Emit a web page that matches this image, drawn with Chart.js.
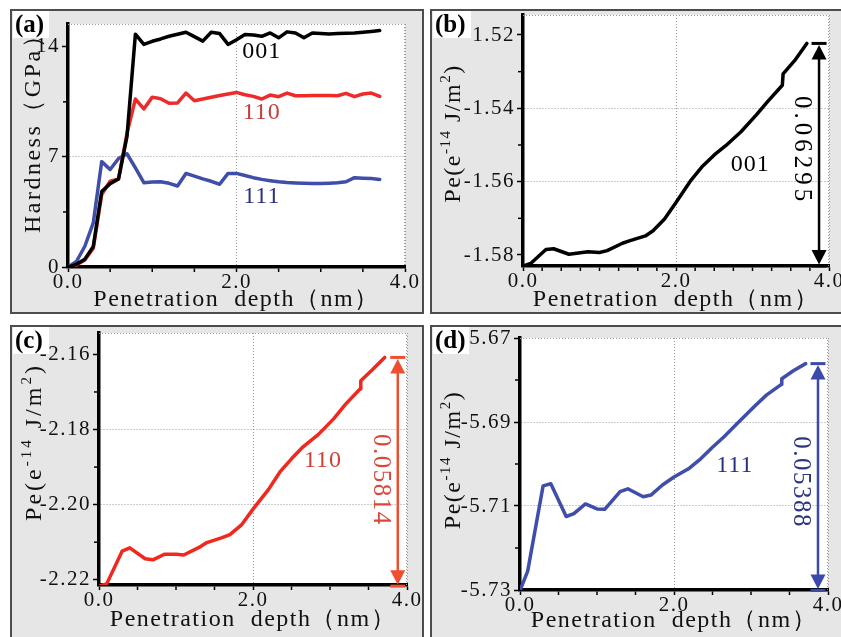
<!DOCTYPE html>
<html>
<head>
<meta charset="utf-8">
<script src="https://cdn.jsdelivr.net/npm/chart.js@4.4.0/dist/chart.umd.min.js"></script>
<style>
html, body { margin: 0; padding: 0; background: #fff; overflow: hidden; width: 841px; height: 637px; }
.panel { position: absolute; box-sizing: border-box; border: 2px solid #4d4d4d; background: #e6e6e6; }
.panel canvas { position: absolute; left: 0; top: 0; }
#pa { left: 10px; top: 9px; width: 414px; height: 305px; }
#pb { left: 430px; top: 9px; width: 430px; height: 305px; }
#pc { left: 10px; top: 325px; width: 414px; height: 330px; }
#pd { left: 430px; top: 325px; width: 430px; height: 330px; }
</style>
</head>
<body>
<div class="panel" id="pa"><canvas id="ca" width="410" height="301"></canvas></div>
<div class="panel" id="pb"><canvas id="cb" width="426" height="301"></canvas></div>
<div class="panel" id="pc"><canvas id="cc" width="410" height="326"></canvas></div>
<div class="panel" id="pd"><canvas id="cd" width="426" height="326"></canvas></div>
<script>
// hardness vs penetration depth (panel a)
var hardDepth = [0, 0.1, 0.2, 0.3, 0.4, 0.5, 0.6, 0.7, 0.8, 0.9, 1.0, 1.1, 1.2, 1.3, 1.4, 1.5, 1.6, 1.7, 1.8, 1.9,
                 2.0, 2.1, 2.2, 2.3, 2.4, 2.5, 2.6, 2.7, 2.8, 2.9, 3.0, 3.1, 3.2, 3.3, 3.4, 3.5, 3.6, 3.7];
var hard001 = [0, 0.17, 0.5, 1.3, 4.8, 5.3, 5.6, 8.3, 14.8, 14.15, 14.35, 14.5, 14.67, 14.8, 14.93, 14.65, 14.36, 14.93, 14.84, 14.15,
               14.45, 14.78, 14.75, 14.67, 14.88, 14.57, 14.95, 14.88, 14.57, 14.88, 14.85, 14.82, 14.84, 14.86, 14.88, 14.92, 14.97, 15.03];
var hard110 = [0, 0.12, 0.45, 1.2, 4.6, 5.45, 5.6, 8.5, 10.68, 10.05, 10.8, 10.7, 10.41, 10.43, 11.06, 10.57, 10.68, 10.79, 10.9, 11.0,
               11.1, 10.95, 10.85, 10.68, 10.93, 10.83, 11.06, 10.89, 10.89, 10.9, 10.9, 10.9, 10.89, 11.04, 10.83, 11.0, 11.06, 10.85];
var hard111 = [0, 0.35, 1.32, 2.8, 6.7, 6.2, 6.9, 7.2, 6.3, 5.36, 5.4, 5.42, 5.32, 5.15, 5.95, 5.78, 5.6, 5.45, 5.26, 5.95,
               5.95, 5.82, 5.68, 5.57, 5.49, 5.42, 5.37, 5.34, 5.32, 5.31, 5.31, 5.33, 5.36, 5.42, 5.68, 5.65, 5.62, 5.57];

// potential energy vs penetration depth (panels b, c, d)
var peDepth = [0, 0.1, 0.3, 0.4, 0.6, 0.7, 0.85, 1.0, 1.1, 1.3, 1.4, 1.6, 1.7, 1.85, 2.0, 2.2, 2.35, 2.5, 2.65, 2.85, 3.05, 3.2, 3.39, 3.40, 3.55, 3.71];
var pe001 = [-1.5830, -1.5823, -1.5785, -1.5783, -1.5798, -1.5795, -1.5791, -1.5793, -1.5788, -1.5768, -1.5761, -1.5748, -1.5734,
             -1.5702, -1.5657, -1.5595, -1.5557, -1.5527, -1.5502, -1.5464, -1.5418, -1.5381, -1.5337, -1.5306, -1.5270, -1.5223];
var pe110 = [-2.2217, -2.2211, -2.2124, -2.2115, -2.2144, -2.2147, -2.2132, -2.2132, -2.2134, -2.2114, -2.2101, -2.2088, -2.2080,
             -2.2054, -2.2012, -2.1960, -2.1913, -2.1878, -2.1846, -2.1813, -2.1771, -2.1733, -2.1692, -2.1670, -2.1641, -2.1608];
var pe111 = [-5.7301, -5.7255, -5.7052, -5.7047, -5.7125, -5.7118, -5.7095, -5.7107, -5.7108, -5.7066, -5.7059, -5.7078, -5.7074,
             -5.7050, -5.7031, -5.7010, -5.6987, -5.6960, -5.6935, -5.6898, -5.6862, -5.6836, -5.6811, -5.6797, -5.6778, -5.6761];

// ticks
var depthTicks = [0, 2, 4];
var hardTicks = [0, 7, 14];
var pe001Ticks = [-1.58, -1.56, -1.54, -1.52];
var pe110Ticks = [-2.22, -2.20, -2.18, -2.16];
var pe111Ticks = [-5.73, -5.71, -5.69, -5.67];
var deltaLabels = ['0.06295', '0.05814', '0.05388'];

var FONT = "'Liberation Serif', 'Times New Roman', serif";
var GRID = '#9a9a9a';

function steps(from, to, step, skip) {
    var out = [];
    for (var v = from; v < to - 1e-9; v += step) {
        var r = Math.round(v * 1000) / 1000;
        if (skip.indexOf(r) < 0) out.push(r);
    }
    return out;
}

function seg(ctx, x1, y1, x2, y2) {
    ctx.beginPath(); ctx.moveTo(x1, y1); ctx.lineTo(x2, y2); ctx.stroke();
}

function drawRuns(ctx, runs, cx, cy, size, spacing) {
    ctx.save();
    ctx.translate(cx, cy);
    ctx.rotate(-Math.PI / 2);
    ctx.letterSpacing = spacing + 'px';
    ctx.textAlign = 'left';
    ctx.textBaseline = 'alphabetic';
    function fontOf(r) { return (r.sup ? Math.round(size * 0.62) : size) + 'px ' + FONT; }
    var w = 0;
    runs.forEach(function(r) { ctx.font = fontOf(r); w += ctx.measureText(r.t).width; });
    var xx = -w / 2;
    runs.forEach(function(r) {
        ctx.font = fontOf(r);
        ctx.fillText(r.t, xx, r.sup ? size * 0.35 - size * 0.42 : size * 0.35);
        xx += ctx.measureText(r.t).width;
    });
    ctx.restore();
}

var decor = {
    id: 'decor',
    beforeDraw: function(chart) {
        var ctx = chart.ctx, a = chart.chartArea;
        ctx.save();
        ctx.fillStyle = '#fff';
        ctx.fillRect(a.left, a.top, a.right - a.left, a.bottom - a.top);
        ctx.restore();
        ctx.letterSpacing = '1.5px';
    },
    beforeDatasetsDraw: function(chart) {
        // dotted top and right frame of the plot area
        var ctx = chart.ctx, a = chart.chartArea;
        ctx.save();
        ctx.strokeStyle = GRID; ctx.lineWidth = 1; ctx.setLineDash([1, 2]);
        ctx.beginPath();
        ctx.moveTo(a.left, a.top + 0.5); ctx.lineTo(a.right - 0.5, a.top + 0.5); ctx.lineTo(a.right - 0.5, a.bottom);
        ctx.stroke();
        ctx.restore();
    },
    afterDraw: function(chart, args, o) {
        var ctx = chart.ctx, a = chart.chartArea, x = chart.scales.x, y = chart.scales.y;
        ctx.save();
        ctx.setLineDash([]);

        // minor ticks
        ctx.strokeStyle = '#000'; ctx.lineWidth = 1.5;
        o.minorX.forEach(function(v) { var px = x.getPixelForValue(v); seg(ctx, px, a.bottom + 1.5, px, a.bottom + 5); });
        o.minorY.forEach(function(v) { var py = y.getPixelForValue(v); seg(ctx, a.left - 5, py, a.left - 1.5, py); });

        // curve names
        ctx.letterSpacing = '1px';
        ctx.textAlign = 'center'; ctx.textBaseline = 'middle';
        ctx.font = '24px ' + FONT;
        o.names.forEach(function(n) {
            ctx.fillStyle = n.color;
            ctx.fillText(n.text, x.getPixelForValue(n.x), y.getPixelForValue(n.y));
        });

        // range arrow
        if (o.arrow) {
            var ar = o.arrow;
            var ax = x.getPixelForValue(ar.x);
            var yT = y.getPixelForValue(Math.max.apply(null, ar.values));
            var yB = y.getPixelForValue(Math.min.apply(null, ar.values));
            ctx.strokeStyle = ar.color; ctx.fillStyle = ar.color;
            ctx.lineWidth = 3;
            seg(ctx, ax - 7.5, yT, ax + 7.5, yT);
            seg(ctx, ax - 7.5, yB, ax + 7.5, yB);
            ctx.lineWidth = 2.5;
            seg(ctx, ax, yT + 12, ax, yB - 12);
            ctx.beginPath(); ctx.moveTo(ax, yT + 1.5); ctx.lineTo(ax - 7.5, yT + 16); ctx.lineTo(ax + 7.5, yT + 16); ctx.closePath(); ctx.fill();
            ctx.beginPath(); ctx.moveTo(ax, yB - 1.5); ctx.lineTo(ax - 7.5, yB - 16); ctx.lineTo(ax + 7.5, yB - 16); ctx.closePath(); ctx.fill();
            ctx.save();
            ctx.translate(ax - 17, (yT + yB) / 2 + ar.dy);
            ctx.rotate(Math.PI / 2);
            ctx.letterSpacing = ar.spacing + 'px';
            ctx.fillStyle = ar.textColor;
            ctx.font = '25px ' + FONT;
            ctx.textAlign = 'center'; ctx.textBaseline = 'middle';
            ctx.fillText(ar.text, 0, 0);
            ctx.restore();
        }

        // y axis title
        ctx.fillStyle = '#111';
        drawRuns(ctx, o.yTitle, o.yTitleX, (a.top + a.bottom) / 2 + o.yTitleShift, 24, o.yTitleSpacing);

        // panel letter
        ctx.letterSpacing = '0px';
        ctx.fillStyle = '#fff';
        ctx.fillRect(1, 0, o.boxW, 27);
        ctx.fillStyle = '#000';
        ctx.font = 'bold 25px ' + FONT;
        ctx.textAlign = 'left'; ctx.textBaseline = 'alphabetic';
        ctx.fillText(o.label, 3, 21);
        ctx.restore();
    }
};

function makePanel(id, p) {
    var nY = p.yTicks.length;
    return new Chart(document.getElementById(id), {
        type: 'scatter',
        data: {
            datasets: p.series.map(function(s) {
                return {
                    data: p.depth.map(function(d, i) { return { x: d, y: s.values[i] }; }),
                    showLine: true,
                    borderColor: s.color,
                    borderWidth: 3.5,
                    pointRadius: 0,
                    tension: 0,
                    borderJoinStyle: 'round',
                    borderCapStyle: 'round'
                };
            })
        },
        options: {
            responsive: false,
            animation: false,
            devicePixelRatio: 1,
            events: [],
            layout: { padding: { left: 0, top: p.top, right: p.right, bottom: 0 } },
            plugins: { legend: { display: false }, tooltip: { enabled: false }, decor: p.decor },
            scales: {
                x: {
                    type: 'linear', min: 0, max: 4,
                    afterBuildTicks: function(s) { s.ticks = depthTicks.map(function(v) { return { value: v }; }); },
                    afterFit: function(s) { s.height = p.xh; s.paddingLeft = 0; s.paddingRight = 0; },
                    ticks: {
                        callback: function(v) { return Number(v).toFixed(1); },
                        font: { family: FONT, size: 21, lineHeight: 1 }, color: '#111',
                        padding: 0, maxRotation: 0, autoSkip: false
                    },
                    grid: {
                        color: function(c) { return c.index === 0 ? 'rgba(0,0,0,0)' : GRID; },
                        lineWidth: 1, tickLength: 5, tickColor: '#000', tickWidth: 1.5
                    },
                    border: { color: '#000', width: 3.5, dash: [1, 2] },
                    title: {
                        display: true, text: 'Penetration  depth（nm）', color: '#111',
                        font: { family: FONT, size: 24, lineHeight: 1 },
                        padding: { top: 0, bottom: p.titlePad }
                    }
                },
                y: {
                    type: 'linear', min: p.yMin, max: p.yMax,
                    afterBuildTicks: function(s) { s.ticks = p.yTicks.map(function(v) { return { value: v }; }); },
                    afterFit: function(s) { s.width = p.yw; s.paddingTop = 0; s.paddingBottom = 0; },
                    ticks: {
                        callback: p.fmt,
                        font: { family: FONT, size: 21, lineHeight: 1 }, color: '#111', padding: 2
                    },
                    grid: {
                        color: function(c) { return (c.index === 0 || c.index === nY - 1) ? 'rgba(0,0,0,0)' : GRID; },
                        lineWidth: 1, tickLength: 6, tickColor: '#000', tickWidth: 1.5
                    },
                    border: { color: '#000', width: 3.5, dash: [1, 2] }
                }
            }
        },
        plugins: [decor]
    });
}

var peTitle = [{ t: 'Pe(e' }, { t: '-14', sup: true }, { t: ' J/m' }, { t: '2', sup: true }, { t: ')' }];
var fmt2 = function(v) { return Number(v).toFixed(2); };
var minorHalf = steps(0, 4, 0.5, depthTicks);

makePanel('ca', {
    depth: hardDepth,
    series: [
        { values: hard001, color: '#000000' },
        { values: hard110, color: '#ee2b2b' },
        { values: hard111, color: '#3f4dab' }
    ],
    yMin: 0, yMax: 15.45, yTicks: hardTicks,
    fmt: function(v) { return String(v); },
    top: 13, right: 17, yw: 56, xh: 45, titlePad: 0,
    decor: {
        label: '(a)', boxW: 36,
        minorX: minorHalf, minorY: [3.5, 10.5],
        names: [
            { text: '001', x: 2.30, y: 13.7, color: '#000' },
            { text: '110', x: 2.30, y: 9.81, color: '#c83c3c' },
            { text: '111', x: 2.30, y: 4.46, color: '#2b327e' }
        ],
        arrow: null,
        yTitle: [{ t: 'Hardness（GPa）' }], yTitleX: 20, yTitleShift: -18, yTitleSpacing: 2.5
    }
});

makePanel('cb', {
    depth: peDepth,
    series: [{ values: pe001, color: '#000000' }],
    yMin: -1.5830, yMax: -1.51455, yTicks: pe001Ticks, fmt: fmt2,
    top: 4, right: 29, yw: 91, xh: 46, titlePad: 0,
    decor: {
        label: '(b)', boxW: 38,
        minorX: steps(0, 4, 0.25, depthTicks), minorY: [-1.57, -1.55, -1.53],
        names: [{ text: '001', x: 2.97, y: -1.5555, color: '#000' }],
        arrow: { x: 3.87, values: pe001, color: '#000', textColor: '#000', text: deltaLabels[0], spacing: 4, dy: -4 },
        yTitle: peTitle, yTitleX: 20, yTitleShift: -7, yTitleSpacing: 1.5
    }
});

makePanel('cc', {
    depth: peDepth,
    series: [{ values: pe110, color: '#f0281e' }],
    yMin: -2.2214, yMax: -2.1543, yTicks: pe110Ticks, fmt: fmt2,
    top: 6, right: 15, yw: 87, xh: 68, titlePad: 21,
    decor: {
        label: '(c)', boxW: 36,
        minorX: minorHalf, minorY: [-2.21, -2.19, -2.17],
        names: [{ text: '110', x: 2.91, y: -2.1884, color: '#cf3f33' }],
        arrow: { x: 3.88, values: pe110, color: '#ef4f2e', textColor: '#d9483a', text: deltaLabels[1], spacing: 1.5, dy: 8 },
        yTitle: peTitle, yTitleX: 21, yTitleShift: -17, yTitleSpacing: 3
    }
});

makePanel('cd', {
    depth: peDepth,
    series: [{ values: pe111, color: '#3f4dab' }],
    yMin: -5.73, yMax: -5.67, yTicks: pe111Ticks, fmt: fmt2,
    top: 11, right: 30, yw: 88, xh: 63, titlePad: 20,
    decor: {
        label: '(d)', boxW: 36,
        minorX: minorHalf, minorY: [-5.72, -5.70, -5.68],
        names: [{ text: '111', x: 2.79, y: -5.7005, color: '#2b327e' }],
        arrow: { x: 3.87, values: pe111, color: '#3b4aaa', textColor: '#2e3580', text: deltaLabels[2], spacing: 1.5, dy: 5 },
        yTitle: peTitle, yTitleX: 20, yTitleShift: -4, yTitleSpacing: 1.5
    }
});
</script>
</body>
</html>
